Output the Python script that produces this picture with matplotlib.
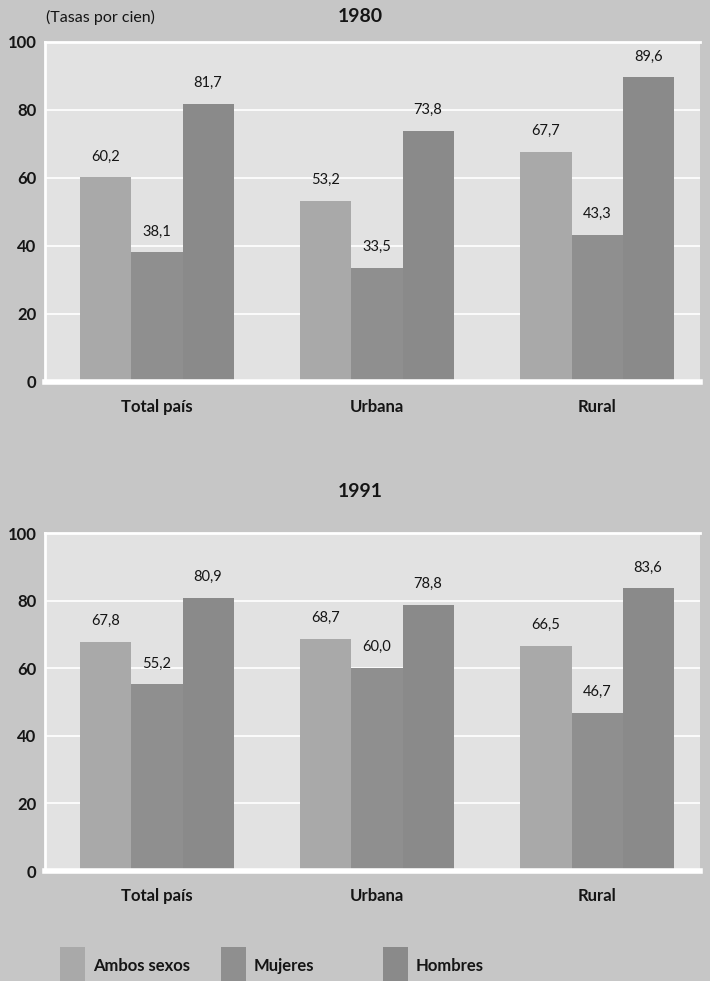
import matplotlib
matplotlib.use("Agg")
import matplotlib.pyplot as plt
from matplotlib.patches import Rectangle
import numpy as np

plt.rcParams['font.family'] = ['Lato', 'DejaVu Sans']

categories = ["Total país", "Urbana", "Rural"]
series_names = ["Ambos sexos", "Mujeres", "Hombres"]
values_1980 = {
    "Ambos sexos": [60.2, 53.2, 67.7],
    "Mujeres": [38.1, 33.5, 43.3],
    "Hombres": [81.7, 73.8, 89.6],
}
values_1991 = {
    "Ambos sexos": [67.8, 68.7, 66.5],
    "Mujeres": [55.2, 60.0, 46.7],
    "Hombres": [80.9, 78.8, 83.6],
}
yticks = [0, 20, 40, 60, 80, 100]

colors = {"Ambos sexos": "#a9a9a9", "Mujeres": "#8f8f8f", "Hombres": "#8a8a8a"}
bg = "#c6c6c6"
panel = "#e2e2e2"

fig = plt.figure(figsize=(7.10, 9.81), dpi=100)
fig.patch.set_facecolor(bg)

W, H = 710, 981


def ax_rect(left, top, right, bottom):
    return [left / W, 1 - bottom / H, (right - left) / W, (bottom - top) / H]


def fmt(v):
    return f"{v:.1f}".replace(".", ",")


def draw_panel(ax, data):
    ax.set_facecolor(panel)
    x = np.arange(len(categories))
    width = 0.232
    offsets = [-width, 0, width]
    for name, off in zip(series_names, offsets):
        vals = data[name]
        bars = ax.bar(x + off, vals, width=width, color=colors[name],
                      edgecolor="none", zorder=3)
        for b, v in zip(bars, vals):
            ax.annotate(fmt(v), (b.get_x() + b.get_width() / 2, v),
                        xytext=(0, 10), textcoords="offset points",
                        ha="center", va="bottom", fontsize=10.5,
                        color="#151515", zorder=4)
    ax.set_xlim(-0.509, 2.468)
    ax.set_ylim(0, 100)
    ax.set_yticks(yticks)
    ax.set_yticklabels([str(t) for t in yticks], fontsize=12,
                       fontweight="bold", color="#151515")
    ax.set_xticks(x)
    ax.set_xticklabels(categories, fontsize=12, fontweight="bold",
                       color="#151515")
    ax.tick_params(axis="both", length=0)
    ax.tick_params(axis="y", pad=6)
    ax.tick_params(axis="x", pad=12)
    ax.yaxis.grid(True, color="white", linewidth=1.2, zorder=1)
    ax.set_axisbelow(True)
    ax.spines["right"].set_visible(False)
    for side in ["left", "top"]:
        ax.spines[side].set_color("white")
        ax.spines[side].set_linewidth(2)
    ax.spines["bottom"].set_color("white")
    ax.spines["bottom"].set_linewidth(4)
    ax.spines["bottom"].set_zorder(5)


ax1 = fig.add_axes(ax_rect(45, 42, 700, 382))
draw_panel(ax1, values_1980)
ax2 = fig.add_axes(ax_rect(45, 533, 700, 871))
draw_panel(ax2, values_1991)

fig.text(360 / W, 1 - 16 / H, "1980", ha="center", va="center",
         fontsize=14, fontweight="bold", color="#151515")
fig.text(360 / W, 1 - 492 / H, "1991", ha="center", va="center",
         fontsize=14, fontweight="bold", color="#151515")
fig.text(46 / W, 1 - 17 / H, "(Tasas por cien)", ha="left", va="center",
         fontsize=11.5, color="#151515")

# legend row
legend_x = [60, 221, 383]
for name, lx in zip(series_names, legend_x):
    fig.patches.append(Rectangle((lx / W, 0), 25 / W, 34 / H,
                                 transform=fig.transFigure,
                                 facecolor=colors[name], edgecolor="none"))
    fig.text((lx + 33) / W, 1 - 966 / H, name, ha="left", va="center",
             fontsize=12, fontweight="bold", color="#151515")

fig.savefig("out.png", dpi=100, facecolor=bg)
